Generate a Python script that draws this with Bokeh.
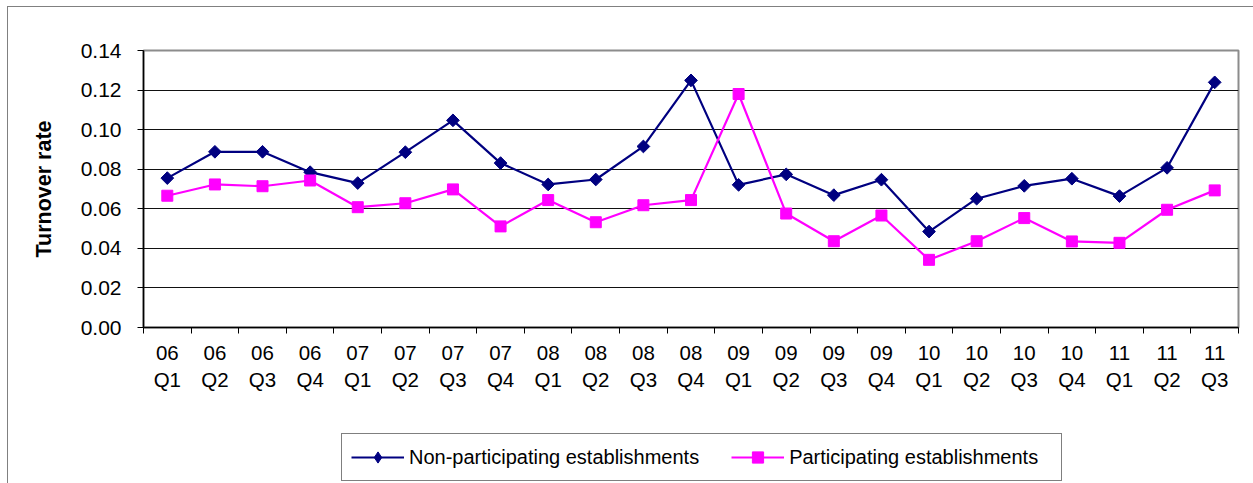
from bokeh.plotting import figure
from bokeh.layouts import column
from bokeh.models import (Legend, LegendItem, FixedTicker, NumeralTickFormatter,
                          Range1d)
from bokeh.embed import file_html
from bokeh.resources import INLINE

quarters = ["06\nQ1", "06\nQ2", "06\nQ3", "06\nQ4",
            "07\nQ1", "07\nQ2", "07\nQ3", "07\nQ4",
            "08\nQ1", "08\nQ2", "08\nQ3", "08\nQ4",
            "09\nQ1", "09\nQ2", "09\nQ3", "09\nQ4",
            "10\nQ1", "10\nQ2", "10\nQ3", "10\nQ4",
            "11\nQ1", "11\nQ2", "11\nQ3"]

non_participating = [0.0755, 0.0888, 0.0888, 0.0785, 0.0730, 0.0886, 0.1047, 0.0831,
                     0.0723, 0.0748, 0.0915, 0.1249, 0.0721, 0.0774, 0.0669, 0.0747,
                     0.0485, 0.0651, 0.0716, 0.0752, 0.0664, 0.0807, 0.1239]

participating = [0.0666, 0.0723, 0.0714, 0.0743, 0.0608, 0.0628, 0.0698, 0.0511,
                 0.0644, 0.0532, 0.0618, 0.0644, 0.1180, 0.0576, 0.0436, 0.0566,
                 0.0342, 0.0436, 0.0553, 0.0435, 0.0428, 0.0595, 0.0693]

series_names = ["Non-participating establishments", "Participating establishments"]

y_ticks = [0.00, 0.02, 0.04, 0.06, 0.08, 0.10, 0.12, 0.14]

n = len(quarters)
xs = [i + 0.5 for i in range(n)]

FONT = "Liberation Sans"
navy = "#000080"
magenta = "#FF00FF"

# ---------------- main chart ----------------
p = figure(width=1245, height=413, output_backend="svg", toolbar_location=None,
           x_range=Range1d(0, n), y_range=Range1d(0, 0.14),
           min_border_left=135, min_border_right=15, min_border_top=43,
           min_border_bottom=93)
p.background_fill_color = "white"
p.border_fill_color = "white"
p.outline_line_color = "#8c8c8c"
p.outline_line_width = 2

p.xgrid.grid_line_color = None
p.ygrid.grid_line_color = "#111111"
p.ygrid.grid_line_width = 1
p.ygrid.ticker = FixedTicker(ticks=y_ticks)

xa = p.xaxis[0]
xa.ticker = FixedTicker(ticks=xs, minor_ticks=list(range(n + 1)))
xa.major_label_overrides = {x: q for x, q in zip(xs, quarters)}
xa.major_tick_line_color = None
xa.major_tick_in = 0
xa.major_tick_out = 0
xa.minor_tick_line_color = "black"
xa.minor_tick_in = 0
xa.minor_tick_out = 6
xa.axis_line_color = "black"
xa.axis_line_width = 1.5
xa.major_label_text_font = FONT
xa.major_label_text_font_size = "20.5px"
xa.major_label_text_color = "black"
xa.major_label_standoff = 7

ya = p.yaxis[0]
ya.ticker = FixedTicker(ticks=y_ticks)
ya.formatter = NumeralTickFormatter(format="0.00")
ya.minor_tick_line_color = None
ya.major_tick_in = 0
ya.major_tick_out = 6
ya.major_tick_line_color = "black"
ya.axis_line_color = "black"
ya.axis_line_width = 1.5
ya.major_label_text_font = FONT
ya.major_label_text_font_size = "21px"
ya.major_label_text_color = "black"
ya.major_label_standoff = 16
ya.axis_label = "Turnover rate"
ya.axis_label_text_font = FONT
ya.axis_label_text_font_size = "21.5px"
ya.axis_label_text_font_style = "bold"
ya.axis_label_text_color = "black"
ya.axis_label_standoff = 22

p.line(xs, non_participating, line_color=navy, line_width=2.2)
p.scatter(xs, non_participating, marker="square", angle=0.7854, size=9,
          fill_color=navy, line_color=navy)
p.line(xs, participating, line_color=magenta, line_width=2.2)
p.scatter(xs, participating, marker="square", size=11,
          fill_color=magenta, line_color=magenta)

# ---------------- legend strip ----------------
# The legend keys need renderers with data; the same series are given to them,
# but this strip's y range lies above the data so nothing but the legend shows.
lg = figure(width=1245, height=63, output_backend="svg", toolbar_location=None,
            x_axis_location=None, y_axis_location=None,
            x_range=Range1d(0, n), y_range=Range1d(1, 2),
            min_border_left=0, min_border_right=0, min_border_top=0, min_border_bottom=0)
lg.outline_line_color = None
lg.grid.grid_line_color = None
lg.background_fill_color = "white"
lg.border_fill_color = "white"

k1 = lg.line(xs, non_participating, line_color=navy, line_width=2.2)
s1 = lg.scatter(xs, non_participating, marker="diamond", size=12,
                fill_color=navy, line_color=navy)
k2 = lg.line(xs, participating, line_color=magenta, line_width=2.2)
s2 = lg.scatter(xs, participating, marker="square", size=11,
                fill_color=magenta, line_color=magenta)

legend = Legend(items=[LegendItem(label=series_names[0], renderers=[k1, s1]),
                       LegendItem(label=series_names[1], renderers=[k2, s2])],
                orientation="horizontal", location=(198, 2),
                glyph_width=53, glyph_height=28, label_standoff=5, spacing=32,
                padding=9, margin=0, label_width=263,
                label_text_font=FONT, label_text_font_size="20px", label_text_color="black",
                border_line_color="black", border_line_width=1,
                background_fill_color="white", background_fill_alpha=1)
lg.add_layout(legend, "center")

layout = column(p, lg, spacing=0,
                styles={"border-left": "1px solid #808080", "border-top": "1px solid #808080",
                        "margin-left": "7px", "margin-top": "6px"})

open("out.html", "w").write(file_html(layout, INLINE))
